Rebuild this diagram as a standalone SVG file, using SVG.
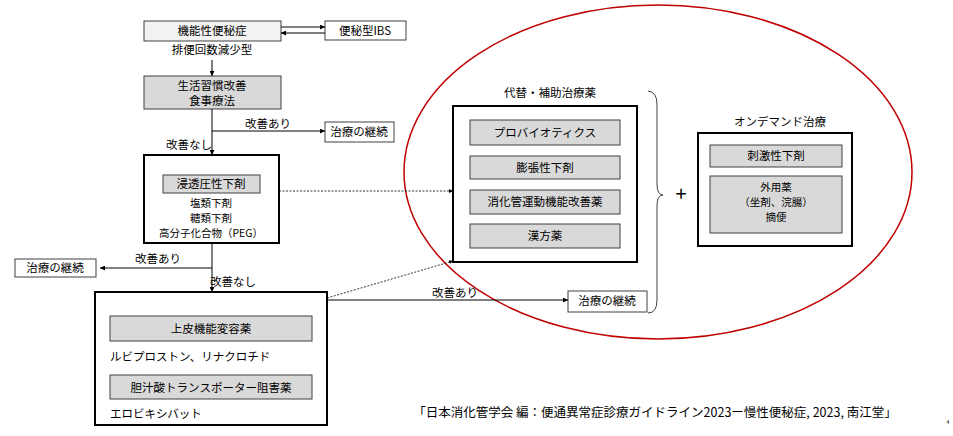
<svg xmlns="http://www.w3.org/2000/svg" width="953" height="436" viewBox="0 0 953 436">
<defs>
<style>
text{font-family:"Noto Sans CJK JP","Liberation Sans",sans-serif;font-size:11.5px;fill:#000;text-anchor:middle}
.l{text-anchor:start}
.s{font-size:10.5px}
.w{fill:#fff;stroke:#404040;stroke-width:1}
.lg{fill:#f2f2f2;stroke:#404040;stroke-width:1}
.g{fill:#d9d9d9;stroke:#404040;stroke-width:1}
.t{fill:#fff;stroke:#000;stroke-width:2}
.c{fill:none;stroke:#000;stroke-width:1}
.d{fill:none;stroke:#000;stroke-width:0.8;stroke-dasharray:2,1.5}
</style>
<marker id="a" viewBox="0 0 6 6" refX="6" refY="3" markerWidth="5" markerHeight="5" orient="auto"><path d="M0,0L6,3L0,6z" fill="#000"/></marker>
</defs>
<rect width="953" height="436" fill="#fff"/>
<ellipse cx="658" cy="172" rx="254" ry="167" fill="none" stroke="#c00000" stroke-width="1.5"/>
<g id="n1"><rect class="lg" x="144" y="21" width="137" height="20"/><text x="212" y="35">機能性便秘症</text><text x="212" y="54">排便回数減少型</text></g>
<g id="n2"><rect class="w" x="325" y="21" width="81" height="19"/><text x="365" y="35">便秘型IBS</text></g>
<g id="n3"><rect class="g" x="144" y="76" width="137" height="33"/><text x="212" y="90">生活習慣改善</text><text x="212" y="105">食事療法</text></g>
<g id="n4"><rect class="w" x="325" y="122" width="69" height="20"/><text x="359" y="136">治療の継続</text></g>
<g id="n5"><rect class="t" x="144" y="155" width="135" height="88"/><rect class="g" x="163" y="175" width="97" height="18"/><text x="211" y="188">浸透圧性下剤</text><text class="s" x="211" y="207">塩類下剤</text><text class="s" x="211" y="222">糖類下剤</text><text class="s" x="211" y="237">高分子化合物（PEG）</text></g>
<g id="n6"><rect class="w" x="15" y="259" width="81" height="18"/><text x="55" y="272">治療の継続</text></g>
<g id="n7"><rect class="t" x="95" y="292" width="232" height="133"/><rect class="g" x="110" y="316" width="202" height="25"/><text x="211" y="333">上皮機能変容薬</text><text class="l" x="110" y="361">ルビプロストン、リナクロチド</text><rect class="g" x="110" y="375" width="202" height="24"/><text x="211" y="392">胆汁酸トランスポーター阻害薬</text><text class="l" x="110" y="418">エロビキシバット</text></g>
<g id="n8"><rect class="w" x="568" y="291" width="79" height="21"/><text x="607" y="305">治療の継続</text></g>
<g id="n9"><text x="550" y="97">代替・補助治療薬</text><rect class="t" x="453" y="106" width="184" height="156"/>
<rect class="g" x="470" y="120" width="150" height="25"/><text x="545" y="137">プロバイオティクス</text>
<rect class="g" x="470" y="156" width="150" height="23"/><text x="545" y="172">膨張性下剤</text>
<rect class="g" x="470" y="190" width="150" height="24"/><text x="545" y="206">消化管運動機能改善薬</text>
<rect class="g" x="470" y="224" width="150" height="24"/><text x="545" y="240">漢方薬</text></g>
<g id="n10"><text x="780" y="126">オンデマンド治療</text><rect class="t" x="698" y="133" width="154" height="113"/>
<rect class="g" x="710" y="145" width="132" height="22"/><text x="776" y="160">刺激性下剤</text>
<rect class="g" x="710" y="176" width="132" height="57"/><text class="s" x="776" y="191">外用薬</text><text class="s" x="776" y="206">（坐剤、浣腸）</text><text class="s" x="776" y="221">摘便</text></g>
<g id="n11"><path d="M648,91 Q657,92 657,104 L657,184 Q657,195 663,195 Q657,195 657,206 L657,300 Q657,313 648,313" fill="none" stroke="#404040" stroke-width="1"/><text x="681" y="201" style="font-size:20px">+</text></g>
<g id="connectors">
<path class="c" d="M281,27H325" marker-end="url(#a)"/>
<path class="c" d="M325,33H281" marker-end="url(#a)"/>
<path class="c" d="M212,60V76" marker-end="url(#a)"/>
<path class="c" d="M212,109V155" marker-end="url(#a)"/>
<path class="c" d="M212,131H325" marker-end="url(#a)"/>
<path class="c" d="M212,243V292" marker-end="url(#a)"/>
<path class="c" d="M212,268H100" marker-end="url(#a)"/>
<path class="c" d="M327,300H568" marker-end="url(#a)"/>
<path class="d" d="M279,191H453" marker-end="url(#a)"/>
<path class="d" d="M327,298L453,261" marker-end="url(#a)"/>
<text x="268" y="128">改善あり</text><text x="189" y="149">改善なし</text>
<text x="158" y="263">改善あり</text><text x="233" y="286">改善なし</text>
<text x="455" y="297">改善あり</text>
</g>
<text x="655" y="417" style="font-size:12.5px">「日本消化管学会 編：便通異常症診療ガイドライン2023ー慢性便秘症, 2023, 南江堂」</text>
<text x="948" y="424" style="font-size:5px">4</text>
</svg>
